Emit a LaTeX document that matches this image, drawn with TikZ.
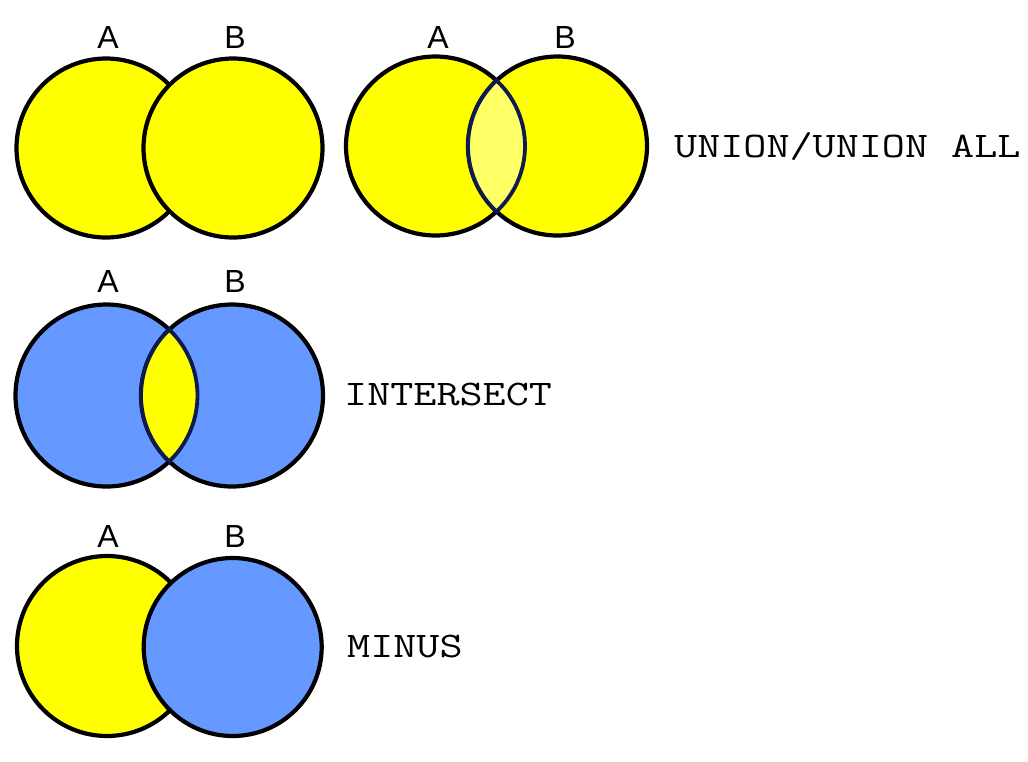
\documentclass[tikz,border=0pt]{standalone}
\usepackage{graphicx}
\usepackage{fontspec}
\setmainfont{Liberation Sans}
\definecolor{vyellow}{HTML}{FFFF00}
\definecolor{vblue}{HTML}{6699FF}
\definecolor{lightyel}{HTML}{FFFF66}
\definecolor{navy}{HTML}{0D1B4F}
\newcommand{\optext}[1]{\scalebox{1.245}[1]{\ttfamily\fontsize{36}{36}\selectfont #1}}
\tikzset{
  setcircle/.style={circle, draw=black, line width=4.2pt, inner sep=0pt, minimum size=#1},
  setlabel/.style={anchor=base, inner sep=0pt, font=\fontsize{32}{32}\selectfont},
  oplabel/.style={anchor=base west, inner sep=0pt},
  lensline/.style={draw=navy, line width=3.8pt, line join=miter}
}
% \lensof{centerA}{centerB}{distance}{radius}{fill}
\newcommand{\lensof}[5]{%
  \pgfmathsetmacro{\lensang}{acos((#3)/(2*(#4)))}%
  \path[lensline, fill=#5] (#1) ++(\lensang:#4)
    arc[start angle=\lensang, end angle=-\lensang, radius=#4]
    arc[start angle=180+\lensang, end angle=180-\lensang, radius=#4] -- cycle;%
}
\begin{document}
\begin{tikzpicture}[x=1pt,y=-1pt]
\useasboundingbox (0,0) rectangle (1028,761);
% Row 1 left
\node[setcircle=179pt, fill=vyellow] (A1) at (106,148) {};
\node[setcircle=179pt, fill=vyellow] (B1) at (233,148) {};
\node[setlabel] (la1) at (108,48) {A};
\node[setlabel] (lb1) at (235,48) {B};
% Row 1 right
\node[setcircle=179pt, fill=vyellow] (A2) at (435.5,146) {};
\node[setcircle=179pt, fill=vyellow] (B2) at (557.5,146) {};
\lensof{A2.center}{B2.center}{122}{89.5}{lightyel}
\node[setlabel] (la2) at (438,48) {A};
\node[setlabel] (lb2) at (565,48) {B};
\node[oplabel] (union) at (674,157) {\optext{UNION/UNION ALL}};
% Row 2
\node[setcircle=182pt, fill=vblue] (A3) at (106.5,395.5) {};
\node[setcircle=182pt, fill=vblue] (B3) at (232,395.5) {};
\lensof{A3.center}{B3.center}{125.5}{91}{vyellow}
\node[setlabel] (la3) at (108,292) {A};
\node[setlabel] (lb3) at (235,292) {B};
\node[oplabel] (inter) at (344,405) {\optext{INTERSECT}};
% Row 3
\node[setcircle=180pt, fill=vyellow] (A4) at (107,646) {};
\node[setcircle=178pt, fill=vblue] (B4) at (232.7,647) {};
\node[setlabel] (la4) at (108,547) {A};
\node[setlabel] (lb4) at (235,547) {B};
\node[oplabel] (minus) at (347,657) {\optext{MINUS}};
\end{tikzpicture}
\end{document}
